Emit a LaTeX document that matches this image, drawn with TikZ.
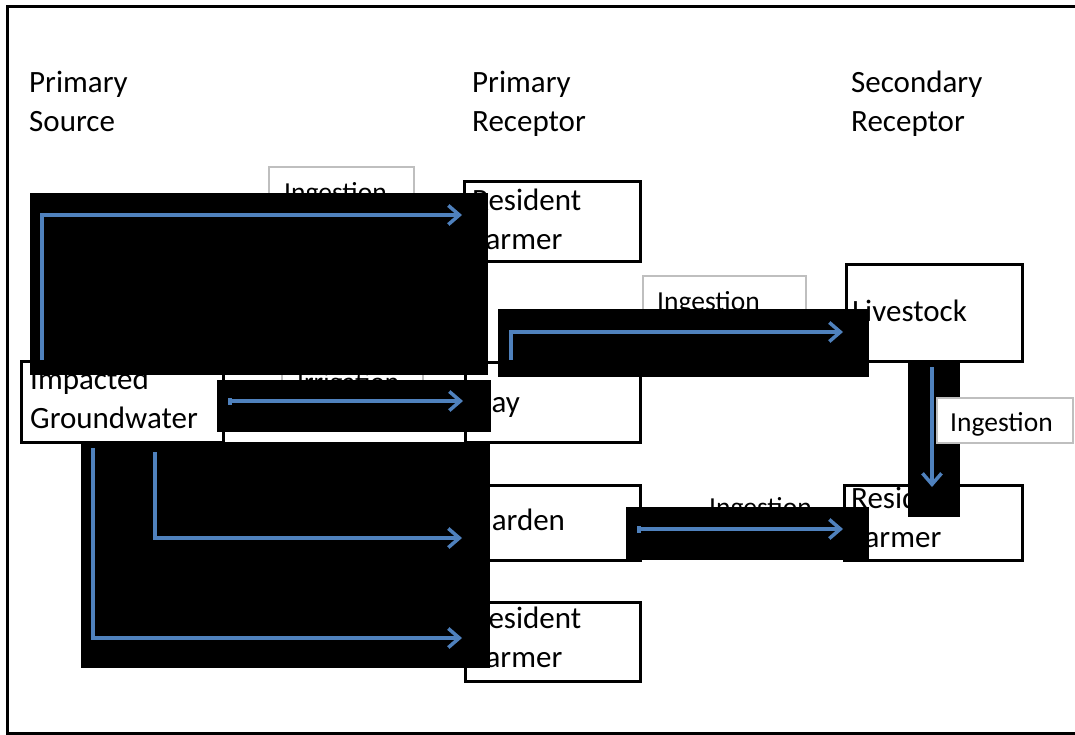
\documentclass[tikz,border=0pt]{standalone}
\usepackage{fontspec}
\setmainfont{Carlito}
\usetikzlibrary{arrows.meta}
\definecolor{arrowblue}{HTML}{4F81BD}
\definecolor{labgray}{HTML}{BFBFBF}
\tikzset{
 box/.style={draw=black, line width=3pt, fill=white, anchor=north west, inner sep=0pt},
 txt/.style={anchor=base west, inner sep=0pt, font=\fontsize{31}{38}\selectfont},
 ltxt/.style={anchor=base west, inner sep=0pt, font=\fontsize{27.5}{33}\selectfont},
 lab/.style={draw=labgray, line width=1.5pt, fill=white, anchor=north west, inner sep=0pt},
 blk/.style={fill=black},
 flow/.style={draw=arrowblue, line width=3.5pt, -{Straight Barb[length=11pt,width=19pt]}},
 dotflow/.style={flow, {Square[length=4pt,width=7pt]}-{Straight Barb[length=11pt,width=19pt]}},
}
\begin{document}
\begin{tikzpicture}[x=1pt,y=-1pt]
\useasboundingbox (0,0) rectangle (1075,734);
\clip (0,0) rectangle (1075,734);
\fill[white] (0,0) rectangle (1075,734);
% frame
\draw[line width=3pt] (1090,6) -- (7,6) -- (7,733) -- (1090,733);
% titles
\node[txt] (t1a) at (29,92) {Primary};
\node[txt] (t1b) at (29,131) {Source};
\node[txt] (t2a) at (472,92) {Primary};
\node[txt] (t2b) at (472,131) {Receptor};
\node[txt] (t3a) at (851,92) {Secondary};
\node[txt] (t3b) at (851,131) {Receptor};
% boxes
\node[box, minimum width=176, minimum height=80] (rf1) at (463,180) {};
\node[txt] (rf1a) at (472,210) {Resident};
\node[txt] (rf1b) at (472,249) {Farmer};
\node[box, minimum width=176, minimum height=97] (live) at (845,263) {};
\node[txt] (livet) at (852,321) {Livestock};
\node[box, minimum width=202, minimum height=81] (imp) at (20,360) {};
\node[txt] (impa) at (30,389) {Impacted};
\node[txt] (impb) at (30,428) {Groundwater};
\node[box, minimum width=175, minimum height=80] (hay) at (464,361) {};
\node[txt] (hayt) at (472,412) {Hay};
\node[box, minimum width=175, minimum height=75] (garden) at (464,484) {};
\node[txt] (gardent) at (472,530) {Garden};
\node[box, minimum width=175, minimum height=79] (rf3) at (464,601) {};
\node[txt] (rf3a) at (472,628) {Resident};
\node[txt] (rf3b) at (472,667) {Farmer};
\node[box, minimum width=178, minimum height=75] (rf2) at (843,484) {};
\node[txt] (rf2a) at (851,508) {Resident};
\node[txt] (rf2b) at (851,547) {Farmer};
% labels
\node[lab, minimum width=145, minimum height=49] (lab1) at (268,166) {};
\node[ltxt] (lab1t) at (284,201) {Ingestion};
\node[lab, minimum width=163, minimum height=50] (lab2) at (642,275) {};
\node[ltxt] (lab2t) at (657,310) {Ingestion};
\node[lab, minimum width=141, minimum height=45] (lab3) at (281,360) {};
\node[ltxt] (lab3t) at (297,391) {Irrigation};
\node[ltxt] (lab5t) at (709,516) {Ingestion};
% black blocks and arrows
\fill[blk] (30,193) rectangle (488,375);
\coordinate (a1s) at (42,360); \coordinate (a1e) at (462,215);
\draw[flow] (a1s) |- (a1e);
\fill[blk] (498,309) rectangle (869,377);
\coordinate (a2s) at (511,360); \coordinate (a2e) at (843,332);
\draw[flow] (a2s) |- (a2e);
\fill[blk] (217,380) rectangle (491,432);
\coordinate (a3s) at (228,401); \coordinate (a3e) at (463,401);
\draw[dotflow] (a3s) -- (a3e);
\fill[blk] (81,442) rectangle (490,668);
\coordinate (a4s) at (155,452); \coordinate (a4e) at (462,538);
\draw[flow] (a4s) |- (a4e);
\coordinate (a5s) at (93,448); \coordinate (a5e) at (462,638);
\draw[flow] (a5s) |- (a5e);
\fill[blk] (626,507) rectangle (869,560);
\coordinate (a6s) at (637,529); \coordinate (a6e) at (843,529);
\draw[dotflow] (a6s) -- (a6e);
\fill[blk] (908,362) rectangle (960,517);
\coordinate (a7s) at (932,367); \coordinate (a7e) at (932,487);
\draw[flow] (a7s) -- (a7e);
\node[lab, minimum width=136, minimum height=45] (lab4) at (936,397) {};
\node[ltxt] (lab4t) at (950,431) {Ingestion};
\end{tikzpicture}
\end{document}
